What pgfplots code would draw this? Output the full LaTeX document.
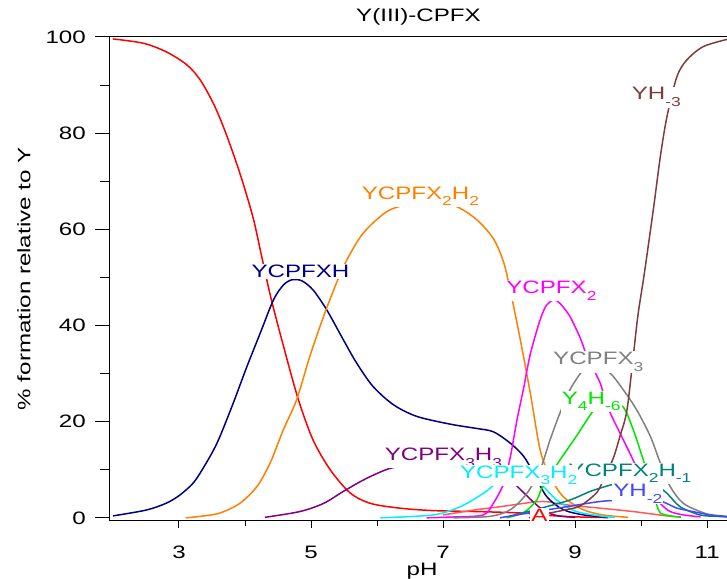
\documentclass[border=0pt]{standalone}
\usepackage{pgfplots}
\pgfplotsset{compat=1.18}
\usepackage{fontspec}
\setmainfont{Liberation Sans}[FakeStretch=1.34]
\setsansfont{Liberation Sans}[FakeStretch=1.34]

\definecolor{cRed}{RGB}{255,0,0}
\definecolor{cRedA}{RGB}{255,90,90}
\definecolor{cNavy}{RGB}{0,0,128}
\definecolor{cOrange}{RGB}{255,128,0}
\definecolor{cPurple}{RGB}{128,0,128}
\definecolor{cMagenta}{RGB}{255,0,255}
\definecolor{cGray}{RGB}{128,128,128}
\definecolor{cGreen}{RGB}{0,230,0}
\definecolor{cCyan}{RGB}{0,240,255}
\definecolor{cTeal}{RGB}{0,128,128}
\definecolor{cBlue}{RGB}{70,70,255}
\definecolor{cBrown}{RGB}{128,60,60}

\newcommand{\fs}{\fontsize{18bp}{21bp}\selectfont}
\newcommand{\sub}[1]{\raisebox{-6.5bp}{\fontsize{13bp}{13bp}\selectfont #1}}

\begin{document}
\begin{tikzpicture}
\useasboundingbox (-110bp,-58.3bp) rectangle (617bp,520.7bp);
\begin{axis}[
  at={(0,0)}, anchor=south west,
  scale only axis, width=617bp, height=483.7bp,
  xmin=1.955, xmax=11.3, ymin=-0.6, ymax=100,
  clip=false,
  axis x line*=box, axis y line*=left,
  xtick pos=left, ytick pos=left,
  xtick={3,5,7,9,11}, minor xtick={4,6,8,10},
  ytick={0,20,40,60,80,100}, minor ytick={10,30,50,70,90},
  tick align=outside,
  major tick length=15bp, minor tick length=10bp,
  xtick style={/pgfplots/major tick length=7.5bp, /pgfplots/minor tick length=5.5bp},
  axis line style={line width=1bp, black},
  every tick/.style={black, line width=1bp},
  /pgf/number format/assume math mode=true,
  ticklabel style={font=\fs},
  xticklabel style={inner sep=0pt, anchor=north, yshift=-10bp},
  yticklabel style={inner sep=0pt, anchor=east, xshift=-9bp},
  title={Y(III)-CPFX},
  title style={at={(axis description cs:0.5,1)}, anchor=base, yshift=10bp, inner sep=0pt, font=\fs},
  xlabel={pH},
  xlabel style={at={(axis description cs:0.5057,-0.1123)}, anchor=base, inner sep=0pt, font=\fs},
  ylabel={\% formation relative to Y},
  ylabel style={at={(axis description cs:-0.1394,0.5)}, anchor=center, inner sep=0pt, font=\fs},
  every axis plot/.append style={line width=1.5bp, smooth, tension=0.5, mark=none},
]

% free Y
\addplot[cRed] coordinates {
(2.0,99.6) (2.46,98.7) (2.81,96.9) (3.12,94.2) (3.32,91.1) (3.52,86.2) (3.67,81.4)
(3.82,75.8) (3.97,69.6) (4.13,62.0) (4.25,54.5) (4.40,45.3) (4.61,34.3) (4.81,24.5)
(5.03,16.2) (5.29,10.0) (5.59,5.2) (5.9,3.0) (6.35,2.0) (6.85,1.5) (7.5,1.3)
(8.0,1.1) (8.3,0.9) (8.6,0.5) (9.0,0.2) (9.5,0.05)
};
% A
\addplot[cRedA] coordinates {
(7.0,0.6) (7.51,1.7) (7.86,2.3) (8.22,3.0) (8.52,3.4) (8.87,2.7) (9.38,2.0)
(9.88,1.3) (10.39,0.4) (10.6,0.2)
};
% YCPFXH
\addplot[cNavy] coordinates {
(2.0,0.4) (2.5,1.6) (2.8,3.0) (3.0,4.6) (3.2,7.0) (3.32,9.3) (3.5,13.5) (3.62,16.9)
(3.82,23.8) (4.03,31.5) (4.23,38.4) (4.43,45.3) (4.58,48.4) (4.71,49.5) (4.86,49.3)
(5.03,47.4) (5.24,43.2) (5.49,37.0) (5.69,32.2) (5.94,27.3) (6.25,23.5) (6.6,21.1)
(7.1,19.5) (7.5,18.6) (7.76,17.9) (8.02,15.5) (8.22,12.8) (8.37,9.3) (8.57,4.4)
(8.82,1.7) (9.13,0.6) (9.5,0.1)
};
% YCPFX2H2
\addplot[cOrange] coordinates {
(3.1,0.0) (3.32,0.3) (3.62,1.0) (3.92,3.0) (4.18,6.5) (4.38,11.4) (4.58,18.3)
(4.78,24.5) (4.98,33.5) (5.19,41.9) (5.39,49.0) (5.54,53.6) (5.79,59.2) (6.15,63.7)
(6.5,65.2) (6.95,65.2) (7.21,64.7) (7.51,62.0) (7.76,58.1) (7.92,53.0) (8.04,45.8)
(8.17,37.0) (8.32,26.0) (8.47,14.1) (8.62,8.6) (8.82,4.4) (9.12,1.7) (9.42,0.6) (9.8,0.1)
};
% YCPFX3H3
\addplot[cPurple] coordinates {
(4.30,0.1) (4.83,1.3) (5.19,3.0) (5.49,5.5) (5.84,8.2) (6.2,10.3) (6.55,11.0)
(6.9,11.4) (7.2,11.3) (7.5,10.6) (7.75,9.7) (7.96,8.6) (8.2,5.5) (8.39,3.0)
(8.55,1.3) (8.75,0.4) (9.0,0.1)
};
% YCPFX3H2
\addplot[cCyan] coordinates {
(6.05,0.0) (6.85,0.6) (7.26,2.3) (7.61,5.1) (7.81,7.2) (8.0,8.4) (8.2,8.6)
(8.4,7.8) (8.52,6.5) (8.72,3.7) (9.02,1.3) (9.43,0.3) (9.6,0.1)
};
% YCPFX2
\addplot[cMagenta] coordinates {
(6.75,0.0) (7.2,0.2) (7.61,0.6) (7.76,3.0) (7.92,7.2) (8.02,12.8) (8.12,20.4)
(8.22,27.0) (8.32,34.0) (8.47,41.2) (8.57,44.3) (8.68,45.3) (8.77,44.6) (8.92,41.9)
(9.08,37.3) (9.18,33.5) (9.28,30.8) (9.38,28.0) (9.5,22.8) (9.68,17.6) (9.83,13.4)
(10.0,8.5) (10.15,5.0) (10.31,2.7) (10.44,1.3) (10.64,0.6) (10.9,0.2)
};
% YCPFX3
\addplot[cGray] coordinates {
(7.16,0.0) (7.71,0.3) (8.02,1.7) (8.27,5.1) (8.47,10.0) (8.62,16.2) (8.77,21.8)
(8.92,26.6) (9.13,30.8) (9.33,31.5) (9.53,30.1) (9.73,26.6) (9.93,22.5) (10.14,16.9)
(10.29,11.4) (10.44,6.5) (10.64,3.0) (10.95,1.0) (11.15,0.4) (11.3,0.2)
};
% Y4H-6
\addplot[cGreen] coordinates {
(7.96,0.0) (8.22,1.1) (8.42,3.7) (8.49,6.0) (8.72,11.0) (9.02,17.0) (9.3,22.7)
(9.5,24.5) (9.73,23.0) (9.88,18.3) (10.0,13.4) (10.1,9.0) (10.23,3.0) (10.29,1.0)
(10.45,0.4) (10.6,0.1)
};
% YCPFX2H-1
\addplot[cTeal] coordinates {
(8.0,0.3) (8.48,2.0) (8.92,3.7) (9.23,5.5) (9.48,6.6) (9.75,7.6) (10.0,7.6)
(10.21,6.9) (10.39,5.1) (10.59,2.3) (10.89,0.6) (11.15,0.3) (11.3,0.2)
};
% YH-2
\addplot[cBlue] coordinates {
(7.86,0.0) (8.42,1.3) (8.87,2.3) (9.38,3.4) (9.73,3.7) (10.0,3.9) (10.29,3.5)
(10.54,2.0) (10.64,1.7) (10.89,1.0) (11.05,0.6) (11.3,0.3)
};
% YH-3
\addplot[cBrown] coordinates {
(8.3,0.0) (8.62,1.0) (8.9,1.8) (9.08,2.5) (9.33,5.3) (9.45,8.6) (9.58,12.5)
(9.68,17.0) (9.78,22.0) (9.86,31.0) (9.95,42.0) (10.05,51.0) (10.19,64.7)
(10.29,75.1) (10.39,83.4) (10.54,91.7) (10.69,95.2) (10.94,98.0) (11.3,99.5)
};

\begin{scope}[every node/.style={fill=white, inner sep=1bp, anchor=base west, font=\fs}]
\node[text=cNavy] at (axis cs:4.08,50.0) {YCPFXH};
\node[text=cOrange] at (axis cs:5.75,66.3) {YCPFX\sub{2}H\sub{2}};
\node[text=cMagenta] at (axis cs:7.94,46.6) {YCPFX\sub{2}};
\node[text=cGray] at (axis cs:8.65,31.8) {YCPFX\sub{3}};
\node[text=cGreen] at (axis cs:8.78,23.6) {Y\sub{4}H\sub{-6}};
\node[text=cPurple] at (axis cs:6.10,11.9) {YCPFX\sub{3}H\sub{3}};
\node[text=cTeal] at (axis cs:8.88,8.6) {YCPFX\sub{2}H\sub{-1}};
\node[text=cCyan] at (axis cs:7.24,8.25) {YCPFX\sub{3}H\sub{2}};
\node[text=cBlue] at (axis cs:9.56,4.4) {YH\sub{-2}};
\node[text=cBrown] at (axis cs:9.84,86.9) {YH\sub{-3}};
\node[text=cRed] at (axis cs:8.32,-0.8) {A};
\end{scope}
\end{axis}
\end{tikzpicture}
\end{document}
